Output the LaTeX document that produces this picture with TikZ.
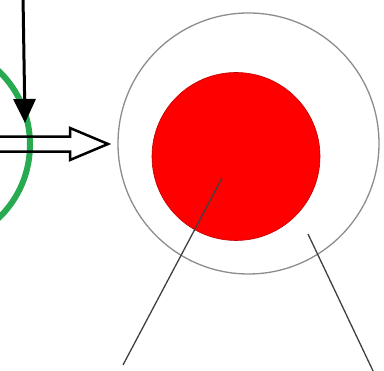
\documentclass[tikz,border=0pt]{standalone}
\usetikzlibrary{arrows.meta}
\definecolor{ringgreen}{RGB}{40,170,80}

\begin{document}
\begin{tikzpicture}[x=1pt, y=1pt,
  ring/.style={circle, draw=black!45, line width=1.3pt, inner sep=0pt, minimum size=261pt},
  core/.style={circle, fill=red, draw=red!75!black, line width=0.6pt, inner sep=0pt, minimum size=168pt},
  leader/.style={draw=black!75, line width=1.3pt}]
\useasboundingbox (0,0) rectangle (384,371);
% green ring, cut by the left edge
\draw[ringgreen, line width=6pt] (-72,226.5) circle (102);
% shell and core
\node[ring] (shell) at (248.5,227.5) {};
\node[core] (core) at (236,214.5) {};
% incoming arrows
\coordinate (vtop) at (23,375);
\coordinate (vtip) at (25,248);
\draw[line width=3pt, -{Triangle[length=24pt, width=22pt]}] (vtop) -- (vtip);
\draw[line width=2.5pt, line join=miter] (-5,234.3) -- (70,234.3) -- (70,243) -- (108,227) -- (70,211) -- (70,219.3) -- (-5,219.3);
% leader lines
\coordinate (coreend) at (222,193);
\coordinate (shellend) at (308,137);
\coordinate (corelbl) at (123,6);
\coordinate (shelllbl) at (374,-2);
\draw[leader] (coreend) -- (corelbl);
\draw[leader] (shellend) -- (shelllbl);
\end{tikzpicture}
\end{document}
